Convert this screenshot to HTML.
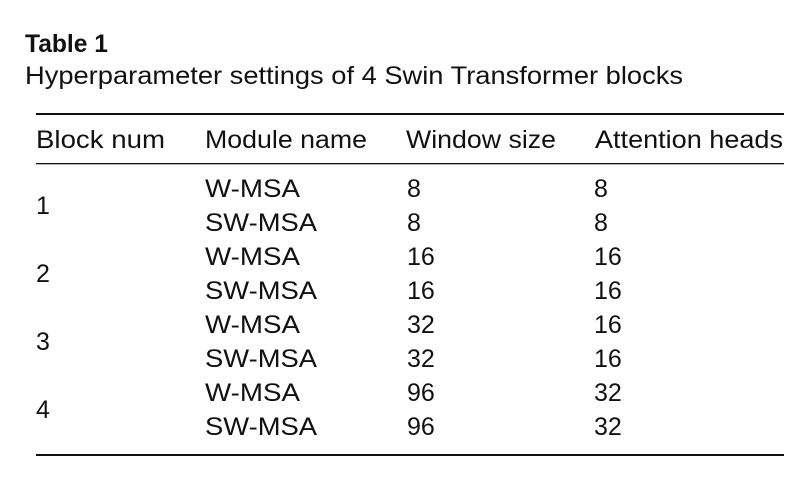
<!DOCTYPE html>
<html><head><style>html,body{margin:0;padding:0;background:#fff;width:798px;height:477px;overflow:hidden}</style></head>
<body>
<svg width="798" height="477" xmlns="http://www.w3.org/2000/svg" font-family="Liberation Sans, sans-serif" fill="#111">
<text x="25" y="52" font-size="25" font-weight="bold" textLength="83" lengthAdjust="spacingAndGlyphs">Table 1</text>
<text x="25" y="84" font-size="25" textLength="658" lengthAdjust="spacingAndGlyphs">Hyperparameter settings of 4 Swin Transformer blocks</text>
<rect x="36" y="113" width="748" height="2" fill="#111"/>
<g font-size="25" lengthAdjust="spacingAndGlyphs">
<text x="36" y="148" textLength="129" lengthAdjust="spacingAndGlyphs">Block num</text>
<text x="205" y="148" textLength="162" lengthAdjust="spacingAndGlyphs">Module name</text>
<text x="406" y="148" textLength="150" lengthAdjust="spacingAndGlyphs">Window size</text>
<text x="595" y="148" textLength="188" lengthAdjust="spacingAndGlyphs">Attention heads</text>
</g>
<rect x="36" y="163" width="748" height="1.3" fill="#111"/>
<g font-size="25">
<text x="36" y="214">1</text><text x="36" y="282">2</text><text x="36" y="350">3</text><text x="36" y="418">4</text>
<text x="205" y="197" textLength="95" lengthAdjust="spacingAndGlyphs">W-MSA</text><text x="205" y="231" textLength="112" lengthAdjust="spacingAndGlyphs">SW-MSA</text>
<text x="205" y="265" textLength="95" lengthAdjust="spacingAndGlyphs">W-MSA</text><text x="205" y="299" textLength="112" lengthAdjust="spacingAndGlyphs">SW-MSA</text>
<text x="205" y="333" textLength="95" lengthAdjust="spacingAndGlyphs">W-MSA</text><text x="205" y="367" textLength="112" lengthAdjust="spacingAndGlyphs">SW-MSA</text>
<text x="205" y="401" textLength="95" lengthAdjust="spacingAndGlyphs">W-MSA</text><text x="205" y="435" textLength="112" lengthAdjust="spacingAndGlyphs">SW-MSA</text>
<text x="407" y="197">8</text><text x="407" y="231">8</text>
<text x="407" y="265">16</text><text x="407" y="299">16</text>
<text x="407" y="333">32</text><text x="407" y="367">32</text>
<text x="407" y="401">96</text><text x="407" y="435">96</text>
<text x="594" y="197">8</text><text x="594" y="231">8</text>
<text x="594" y="265">16</text><text x="594" y="299">16</text>
<text x="594" y="333">16</text><text x="594" y="367">16</text>
<text x="594" y="401">32</text><text x="594" y="435">32</text>
</g>
<rect x="36" y="454" width="748" height="2" fill="#111"/>
</svg>
</body></html>
